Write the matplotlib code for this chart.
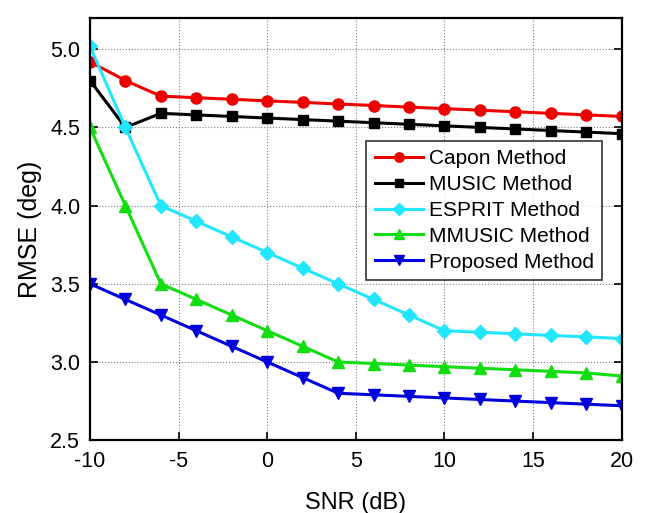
import matplotlib
matplotlib.use('Agg')
import matplotlib.pyplot as plt

plt.rcParams['font.family'] = ['Liberation Sans', 'DejaVu Sans']
plt.rcParams['axes.unicode_minus'] = False

snr = [-10, -8, -6, -4, -2, 0, 2, 4, 6, 8, 10, 12, 14, 16, 18, 20]
capon = [4.92, 4.80, 4.70, 4.69, 4.68, 4.67, 4.66, 4.65, 4.64, 4.63, 4.62, 4.61, 4.60, 4.59, 4.58, 4.57]
music = [4.80, 4.50, 4.59, 4.58, 4.57, 4.56, 4.55, 4.54, 4.53, 4.52, 4.51, 4.50, 4.49, 4.48, 4.47, 4.46]
esprit = [5.02, 4.50, 4.00, 3.90, 3.80, 3.70, 3.60, 3.50, 3.40, 3.30, 3.20, 3.19, 3.18, 3.17, 3.16, 3.15]
mmusic = [4.50, 4.00, 3.50, 3.40, 3.30, 3.20, 3.10, 3.00, 2.99, 2.98, 2.97, 2.96, 2.95, 2.94, 2.93, 2.91]
proposed = [3.50, 3.40, 3.30, 3.20, 3.10, 3.00, 2.90, 2.80, 2.79, 2.78, 2.77, 2.76, 2.75, 2.74, 2.73, 2.72]

fig = plt.figure(figsize=(6.47, 5.13), dpi=100)
ax = fig.add_axes([0.139, 0.142, 0.822, 0.823])

lw = 2.2
ax.plot(snr, capon, color='#ee0000', marker='o', markersize=8, linewidth=lw, label='Capon Method')
ax.plot(snr, music, color='black', marker='s', markersize=7, linewidth=lw, label='MUSIC Method')
ax.plot(snr, esprit, color='#22e6ff', marker='D', markersize=7, linewidth=lw, label='ESPRIT Method')
ax.plot(snr, mmusic, color='#11dd11', marker='^', markersize=8, linewidth=lw, label='MMUSIC Method')
ax.plot(snr, proposed, color='#0000dd', marker='v', markersize=8, linewidth=lw, label='Proposed Method')

ax.set_xlim(-10, 20)
ax.set_ylim(2.5, 5.2)
ax.set_xticks([-10, -5, 0, 5, 10, 15, 20])
ax.set_yticks([2.5, 3.0, 3.5, 4.0, 4.5, 5.0])
ax.set_yticklabels(['2.5', '3.0', '3.5', '4.0', '4.5', '5.0'])
ax.tick_params(direction='in', labelsize=15.5, length=6, width=1.2, top=False, right=True)
ax.tick_params(axis='x', pad=8)
ax.tick_params(axis='y', pad=7)
ax.grid(True, color='gray', linestyle=':', linewidth=0.8)
for s in ax.spines.values():
    s.set_linewidth(1.6)

ax.set_xlabel('SNR (dB)', fontsize=17, labelpad=14)
ax.set_ylabel('RMSE (deg)', fontsize=18, labelpad=6)

leg = ax.legend(loc='upper left', bbox_to_anchor=(0.52, 0.709), fontsize=15,
                frameon=True, fancybox=False, edgecolor='black',
                handlelength=2.3, handletextpad=0.3, borderpad=0.4,
                borderaxespad=0, labelspacing=0.33, markerscale=0.85)
leg.get_frame().set_linewidth(1.2)

plt.savefig('out.png', dpi=100)
plt.close()
